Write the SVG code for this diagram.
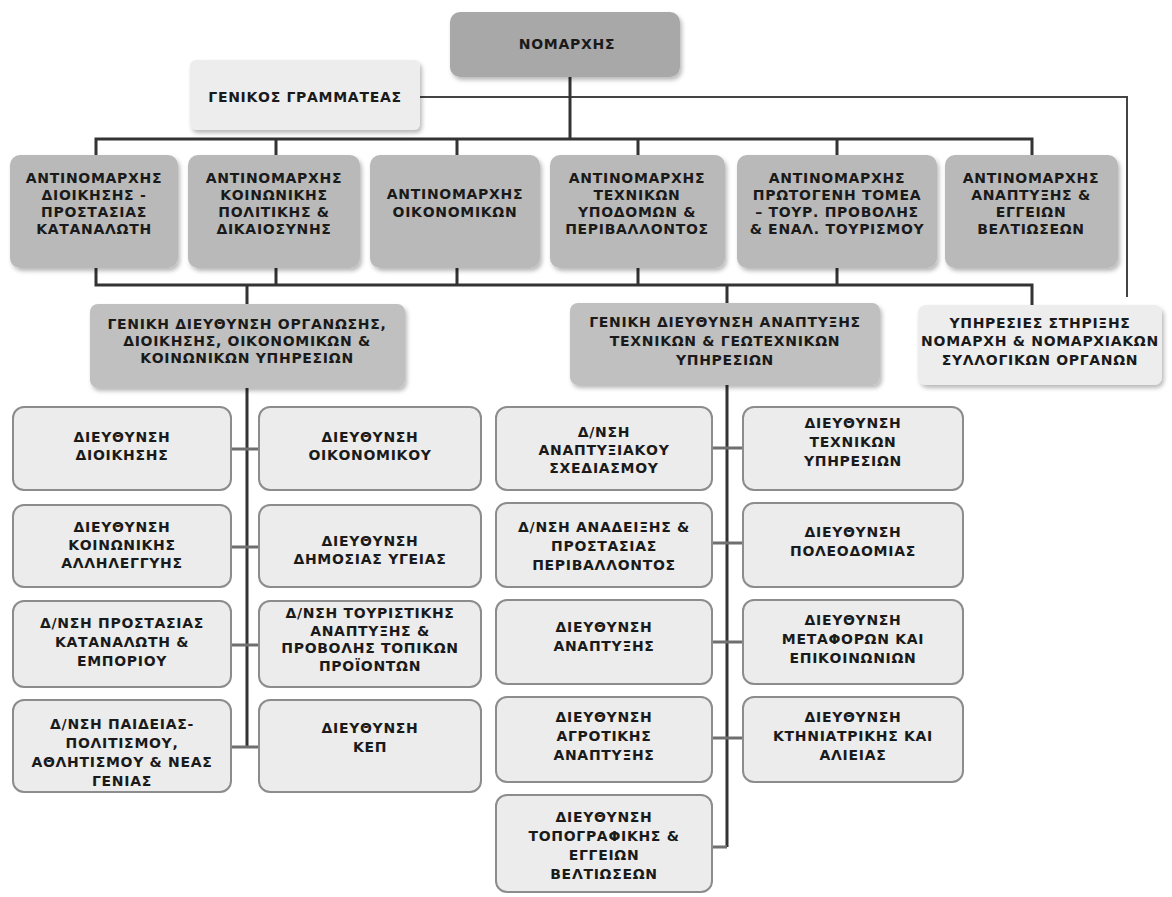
<svg xmlns="http://www.w3.org/2000/svg" width="1172" height="897" viewBox="0 0 1172 897">
<defs>
<filter id="sh" x="-10%" y="-10%" width="125%" height="130%">
<feDropShadow dx="2" dy="3" stdDeviation="2" flood-color="#000" flood-opacity="0.28"/>
</filter>
<style>
text{font-family:"DejaVu Sans","Noto Sans",sans-serif;font-weight:bold;font-size:14px;letter-spacing:0.7px;fill:#1a1a1a;text-anchor:middle}
.top{fill:#a8a8a8;filter:url(#sh)}
.anti{fill:#b9b9b9;filter:url(#sh)}
.gd{fill:#c0c0c0;filter:url(#sh)}
.lt{fill:#ededed;filter:url(#sh)}
.dir{fill:#ececec;stroke:#8c8c8c;stroke-width:2}
.ln{fill:none;stroke:#333;stroke-width:3}
.th{fill:none;stroke:#444;stroke-width:2}
.rc{fill:none;stroke:#6f6f6f;stroke-width:3}
</style>
</defs>
<rect width="1172" height="897" fill="#fff"/>

<g id="connectors">
<path class="th" d="M420 97 H1127 V297"/>
<path class="ln" d="M570 77 V139"/>
<path class="ln" d="M96 155 V139 H1032 V155"/>
<path class="ln" d="M276 139 V155 M457 139 V155 M638 139 V155 M837 139 V155"/>
<path class="ln" d="M96 268 V285 H1032 V305"/>
<path class="ln" d="M276 268 V285 M457 268 V285 M638 268 V285 M837 268 V285"/>
<path class="ln" d="M247 285 V305 M727 285 V303"/>
<path class="ln" d="M247 388 V747"/>
<path class="ln" d="M727 385 V847"/>
<path class="rc" d="M231 449 H259 M231 547 H259 M231 645 H259 M231 747 H259"/>
<path class="rc" d="M712 448 H743 M712 543 H743 M712 642 H743 M712 738 H743 M712 847 H727"/>
</g>

<g id="nomarxis"><rect class="top" x="450" y="12" width="230" height="65" rx="10"/><text x="567" y="49">ΝΟΜΑΡΧΗΣ</text></g>
<g id="gen-grammateas"><rect class="lt" x="190" y="60" width="230" height="70" rx="6"/><text x="305" y="102">ΓΕΝΙΚΟΣ ΓΡΑΜΜΑΤΕΑΣ</text></g>

<g id="anti1"><rect class="anti" x="10" y="155" width="168" height="113" rx="10"/>
<text x="94" y="183">ΑΝΤΙΝΟΜΑΡΧΗΣ</text><text x="94" y="200">ΔΙΟΙΚΗΣΗΣ -</text><text x="94" y="217">ΠΡΟΣΤΑΣΙΑΣ</text><text x="94" y="234">ΚΑΤΑΝΑΛΩΤΗ</text></g>
<g id="anti2"><rect class="anti" x="188" y="155" width="172" height="113" rx="10"/>
<text x="274" y="183">ΑΝΤΙΝΟΜΑΡΧΗΣ</text><text x="274" y="200">ΚΟΙΝΩΝΙΚΗΣ</text><text x="274" y="217">ΠΟΛΙΤΙΚΗΣ &amp;</text><text x="274" y="234">ΔΙΚΑΙΟΣΥΝΗΣ</text></g>
<g id="anti3"><rect class="anti" x="370" y="155" width="170" height="113" rx="10"/>
<text x="455" y="199">ΑΝΤΙΝΟΜΑΡΧΗΣ</text><text x="455" y="217">ΟΙΚΟΝΟΜΙΚΩΝ</text></g>
<g id="anti4"><rect class="anti" x="550" y="155" width="175" height="113" rx="10"/>
<text x="637" y="183">ΑΝΤΙΝΟΜΑΡΧΗΣ</text><text x="637" y="200">ΤΕΧΝΙΚΩΝ</text><text x="637" y="217">ΥΠΟΔΟΜΩΝ &amp;</text><text x="637" y="234">ΠΕΡΙΒΑΛΛΟΝΤΟΣ</text></g>
<g id="anti5"><rect class="anti" x="737" y="155" width="200" height="113" rx="10"/>
<text x="837" y="183">ΑΝΤΙΝΟΜΑΡΧΗΣ</text><text x="837" y="200">ΠΡΩΤΟΓΕΝΗ ΤΟΜΕΑ</text><text x="837" y="217">– ΤΟΥΡ. ΠΡΟΒΟΛΗΣ</text><text x="837" y="234">&amp; ΕΝΑΛ. ΤΟΥΡΙΣΜΟΥ</text></g>
<g id="anti6"><rect class="anti" x="945" y="155" width="173" height="113" rx="10"/>
<text x="1031" y="183">ΑΝΤΙΝΟΜΑΡΧΗΣ</text><text x="1031" y="200">ΑΝΑΠΤΥΞΗΣ &amp;</text><text x="1031" y="217">ΕΓΓΕΙΩΝ</text><text x="1031" y="234">ΒΕΛΤΙΩΣΕΩΝ</text></g>

<g id="gd1"><rect class="gd" x="90" y="304" width="315" height="84" rx="8"/>
<text x="247" y="329">ΓΕΝΙΚΗ ΔΙΕΥΘΥΝΣΗ ΟΡΓΑΝΩΣΗΣ,</text><text x="247" y="346">ΔΙΟΙΚΗΣΗΣ, ΟΙΚΟΝΟΜΙΚΩΝ &amp;</text><text x="247" y="363">ΚΟΙΝΩΝΙΚΩΝ ΥΠΗΡΕΣΙΩΝ</text></g>
<g id="gd2"><rect class="gd" x="570" y="303" width="310" height="82" rx="8"/>
<text x="725" y="327">ΓΕΝΙΚΗ ΔΙΕΥΘΥΝΣΗ ΑΝΑΠΤΥΞΗΣ</text><text x="725" y="346">ΤΕΧΝΙΚΩΝ &amp; ΓΕΩΤΕΧΝΙΚΩΝ</text><text x="725" y="365">ΥΠΗΡΕΣΙΩΝ</text></g>
<g id="ypiresies"><rect class="lt" x="918" y="305" width="244" height="80" rx="8"/>
<text x="1040" y="328">ΥΠΗΡΕΣΙΕΣ ΣΤΗΡΙΞΗΣ</text><text x="1040" y="346">ΝΟΜΑΡΧΗ &amp; ΝΟΜΑΡΧΙΑΚΩΝ</text><text x="1040" y="365">ΣΥΛΛΟΓΙΚΩΝ ΟΡΓΑΝΩΝ</text></g>

<g id="d-dioikisis"><rect class="dir" x="13" y="407" width="218" height="83" rx="11"/>
<text x="122" y="442">ΔΙΕΥΘΥΝΣΗ</text><text x="122" y="460">ΔΙΟΙΚΗΣΗΣ</text></g>
<g id="d-oikonomikou"><rect class="dir" x="259" y="407" width="222" height="83" rx="11"/>
<text x="370" y="442">ΔΙΕΥΘΥΝΣΗ</text><text x="370" y="460">ΟΙΚΟΝΟΜΙΚΟΥ</text></g>
<g id="d-allileggyis"><rect class="dir" x="13" y="505" width="218" height="82" rx="11"/>
<text x="122" y="532">ΔΙΕΥΘΥΝΣΗ</text><text x="122" y="550">ΚΟΙΝΩΝΙΚΗΣ</text><text x="122" y="568">ΑΛΛΗΛΕΓΓΥΗΣ</text></g>
<g id="d-ygeias"><rect class="dir" x="259" y="505" width="222" height="82" rx="11"/>
<text x="370" y="546">ΔΙΕΥΘΥΝΣΗ</text><text x="370" y="564">ΔΗΜΟΣΙΑΣ ΥΓΕΙΑΣ</text></g>
<g id="d-katanaloti"><rect class="dir" x="13" y="601" width="218" height="86" rx="11"/>
<text x="122" y="628">Δ/ΝΣΗ ΠΡΟΣΤΑΣΙΑΣ</text><text x="122" y="647">ΚΑΤΑΝΑΛΩΤΗ &amp;</text><text x="122" y="666">ΕΜΠΟΡΙΟΥ</text></g>
<g id="d-touristikis"><rect class="dir" x="259" y="601" width="222" height="86" rx="11"/>
<text x="370" y="618">Δ/ΝΣΗ ΤΟΥΡΙΣΤΙΚΗΣ</text><text x="370" y="636">ΑΝΑΠΤΥΞΗΣ &amp;</text><text x="370" y="653">ΠΡΟΒΟΛΗΣ ΤΟΠΙΚΩΝ</text><text x="370" y="671">ΠΡΟΪΟΝΤΩΝ</text></g>
<g id="d-paideias"><rect class="dir" x="13" y="700" width="218" height="92" rx="11"/>
<text x="122" y="729">Δ/ΝΣΗ ΠΑΙΔΕΙΑΣ-</text><text x="122" y="748">ΠΟΛΙΤΙΣΜΟΥ,</text><text x="122" y="767">ΑΘΛΗΤΙΣΜΟΥ &amp; ΝΕΑΣ</text><text x="122" y="786">ΓΕΝΙΑΣ</text></g>
<g id="d-kep"><rect class="dir" x="259" y="700" width="222" height="92" rx="11"/>
<text x="370" y="733">ΔΙΕΥΘΥΝΣΗ</text><text x="370" y="752">ΚΕΠ</text></g>

<g id="d-anaptyxiakou"><rect class="dir" x="496" y="407" width="216" height="83" rx="11"/>
<text x="604" y="437">Δ/ΝΣΗ</text><text x="604" y="455">ΑΝΑΠΤΥΞΙΑΚΟΥ</text><text x="604" y="473">ΣΧΕΔΙΑΣΜΟΥ</text></g>
<g id="d-texnikon"><rect class="dir" x="743" y="407" width="220" height="83" rx="11"/>
<text x="853" y="428">ΔΙΕΥΘΥΝΣΗ</text><text x="853" y="447">ΤΕΧΝΙΚΩΝ</text><text x="853" y="466">ΥΠΗΡΕΣΙΩΝ</text></g>
<g id="d-perivallontos"><rect class="dir" x="496" y="503" width="216" height="84" rx="11"/>
<text x="604" y="532">Δ/ΝΣΗ ΑΝΑΔΕΙΞΗΣ &amp;</text><text x="604" y="551">ΠΡΟΣΤΑΣΙΑΣ</text><text x="604" y="570">ΠΕΡΙΒΑΛΛΟΝΤΟΣ</text></g>
<g id="d-poleodomias"><rect class="dir" x="743" y="503" width="220" height="84" rx="11"/>
<text x="853" y="537">ΔΙΕΥΘΥΝΣΗ</text><text x="853" y="556">ΠΟΛΕΟΔΟΜΙΑΣ</text></g>
<g id="d-anaptyxis"><rect class="dir" x="496" y="600" width="216" height="84" rx="11"/>
<text x="604" y="632">ΔΙΕΥΘΥΝΣΗ</text><text x="604" y="651">ΑΝΑΠΤΥΞΗΣ</text></g>
<g id="d-metaforon"><rect class="dir" x="743" y="600" width="220" height="84" rx="11"/>
<text x="853" y="625">ΔΙΕΥΘΥΝΣΗ</text><text x="853" y="644">ΜΕΤΑΦΟΡΩΝ ΚΑΙ</text><text x="853" y="663">ΕΠΙΚΟΙΝΩΝΙΩΝ</text></g>
<g id="d-agrotikis"><rect class="dir" x="496" y="697" width="216" height="85" rx="11"/>
<text x="604" y="722">ΔΙΕΥΘΥΝΣΗ</text><text x="604" y="741">ΑΓΡΟΤΙΚΗΣ</text><text x="604" y="760">ΑΝΑΠΤΥΞΗΣ</text></g>
<g id="d-ktiniatrikis"><rect class="dir" x="743" y="697" width="220" height="85" rx="11"/>
<text x="853" y="722">ΔΙΕΥΘΥΝΣΗ</text><text x="853" y="741">ΚΤΗΝΙΑΤΡΙΚΗΣ ΚΑΙ</text><text x="853" y="760">ΑΛΙΕΙΑΣ</text></g>
<g id="d-topografikis"><rect class="dir" x="496" y="795" width="216" height="97" rx="11"/>
<text x="604" y="822">ΔΙΕΥΘΥΝΣΗ</text><text x="604" y="841">ΤΟΠΟΓΡΑΦΙΚΗΣ &amp;</text><text x="604" y="860">ΕΓΓΕΙΩΝ</text><text x="604" y="879">ΒΕΛΤΙΩΣΕΩΝ</text></g>
</svg>
